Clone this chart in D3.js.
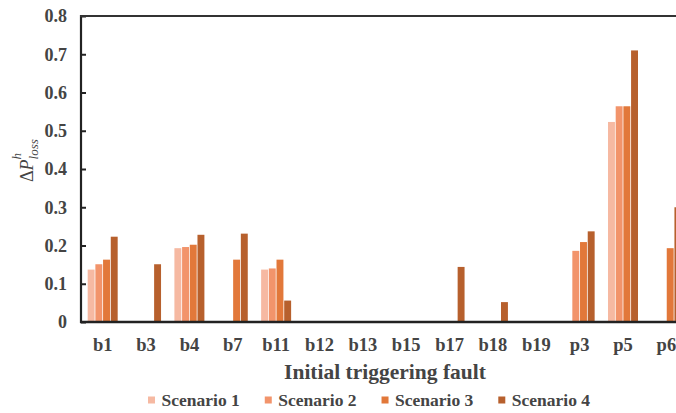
<!DOCTYPE html>
<html><head><meta charset="utf-8">
<script src="https://cdn.jsdelivr.net/npm/d3@7"></script>
<style>
html,body{margin:0;padding:0;background:#fff;}
svg{display:block;}
text{font-family:"Liberation Serif","Times New Roman",serif;font-weight:bold;fill:#444;}
</style></head>
<body><svg id="c" width="676" height="413"></svg>
<script>
const categories = ["b1","b3","b4","b7","b11","b12","b13","b15","b17","b18","b19","p3","p5","p6"];
const seriesNames = ["Scenario 1","Scenario 2","Scenario 3","Scenario 4"];
const scenario1 = [0.137,0,0.193,0,0.137,0,0,0,0,0,0,0,0.523,0];
const scenario2 = [0.151,0,0.196,0,0.140,0,0,0,0,0,0,0.186,0.564,0];
const scenario3 = [0.163,0,0.202,0.163,0.163,0,0,0,0,0,0,0.209,0.564,0.193];
const scenario4 = [0.223,0.151,0.228,0.231,0.056,0,0,0,0.144,0.052,0,0.237,0.710,0.300];
const yTicks = [0,0.1,0.2,0.3,0.4,0.5,0.6,0.7,0.8];
const colors = ["#f6b9a2","#f2946b","#e2783a","#b7602d"];

(function(){
const series = [scenario1,scenario2,scenario3,scenario4];
const svg = d3.select("#c");
const mLeft = 81, mTop = 16, mBottom = 322, step = 43.36;
const x = d3.scaleBand().domain(categories).range([mLeft, mLeft + step*categories.length]).padding(0);
const xi = d3.scaleBand().domain(d3.range(4)).range([-15,15]).paddingInner(0.1);
const y = d3.scaleLinear().domain([0,0.8]).range([mBottom, mTop]);

// bars
const g = svg.append("g");
categories.forEach((c,i)=>{
  const cx = x(c) + x.bandwidth()/2;
  series.forEach((s,k)=>{
    if (s[i] <= 0) return;
    g.append("rect")
      .attr("x", cx + xi(k))
      .attr("width", xi.bandwidth())
      .attr("y", y(s[i]))
      .attr("height", y(0) - y(s[i]))
      .attr("fill", colors[k]);
  });
});

// y axis
const yAxis = d3.axisLeft(y).tickValues(yTicks).tickSize(-5).tickPadding(14)
  .tickFormat(d => d===0 ? "0" : d3.format(".1f")(d));
const ya = svg.append("g").attr("transform",`translate(${mLeft},0)`).call(yAxis);
ya.select(".domain").remove();
ya.selectAll(".tick line").attr("stroke","#222").attr("stroke-width",2);
ya.selectAll(".tick text").attr("font-size",18).attr("fill","#4a4a4a")
  .style("font-family",'"Liberation Serif",serif').style("font-weight","bold");
svg.append("line").attr("x1",mLeft).attr("x2",mLeft).attr("y1",mTop-1).attr("y2",mBottom+1)
  .attr("stroke","#222").attr("stroke-width",2.2);
svg.append("line").attr("x1",mLeft-1).attr("x2",676).attr("y1",mTop).attr("y2",mTop)
  .attr("stroke","#333").attr("stroke-width",2);

// x axis
const xAxis = d3.axisBottom(x).tickSize(0).tickPadding(16);
const xa = svg.append("g").attr("transform",`translate(0,${mBottom})`).call(xAxis);
xa.select(".domain").remove();
xa.selectAll(".tick text").attr("font-size",18.5).attr("fill","#4a4a4a")
  .style("font-family",'"Liberation Serif",serif').style("font-weight","bold");
svg.append("line").attr("x1",mLeft-1).attr("x2",676).attr("y1",mBottom).attr("y2",mBottom)
  .attr("stroke","#222").attr("stroke-width",2.4);

// x title
svg.append("text").attr("x",385).attr("y",379).attr("text-anchor","middle")
  .attr("font-size",21.5).attr("fill","#4a4a4a").text("Initial triggering fault");

// y title
const yt = svg.append("text").attr("transform","translate(33,182) rotate(-90)")
  .attr("text-anchor","start").attr("font-size",18).style("font-weight","normal").attr("fill","#222");
yt.append("tspan").text("Δ");
yt.append("tspan").style("font-style","italic").text("P");
yt.append("tspan").style("font-style","italic").attr("font-size",13).attr("dy",-12).text("h");
yt.append("tspan").style("font-style","italic").attr("font-size",13).attr("dx",-6.5).attr("dy",17).text("loss");

// legend
let lx = 148;
const leg = svg.append("g");
seriesNames.forEach((n,k)=>{
  leg.append("rect").attr("x",lx).attr("y",396.5).attr("width",7).attr("height",7).attr("fill",colors[k]);
  const t = leg.append("text").attr("x",lx+13.5).attr("y",405.5).attr("font-size",17.5).attr("fill","#4a4a4a").text(n);
  lx += 13.5 + t.node().getComputedTextLength() + 25;
});
})();
</script></body></html>
